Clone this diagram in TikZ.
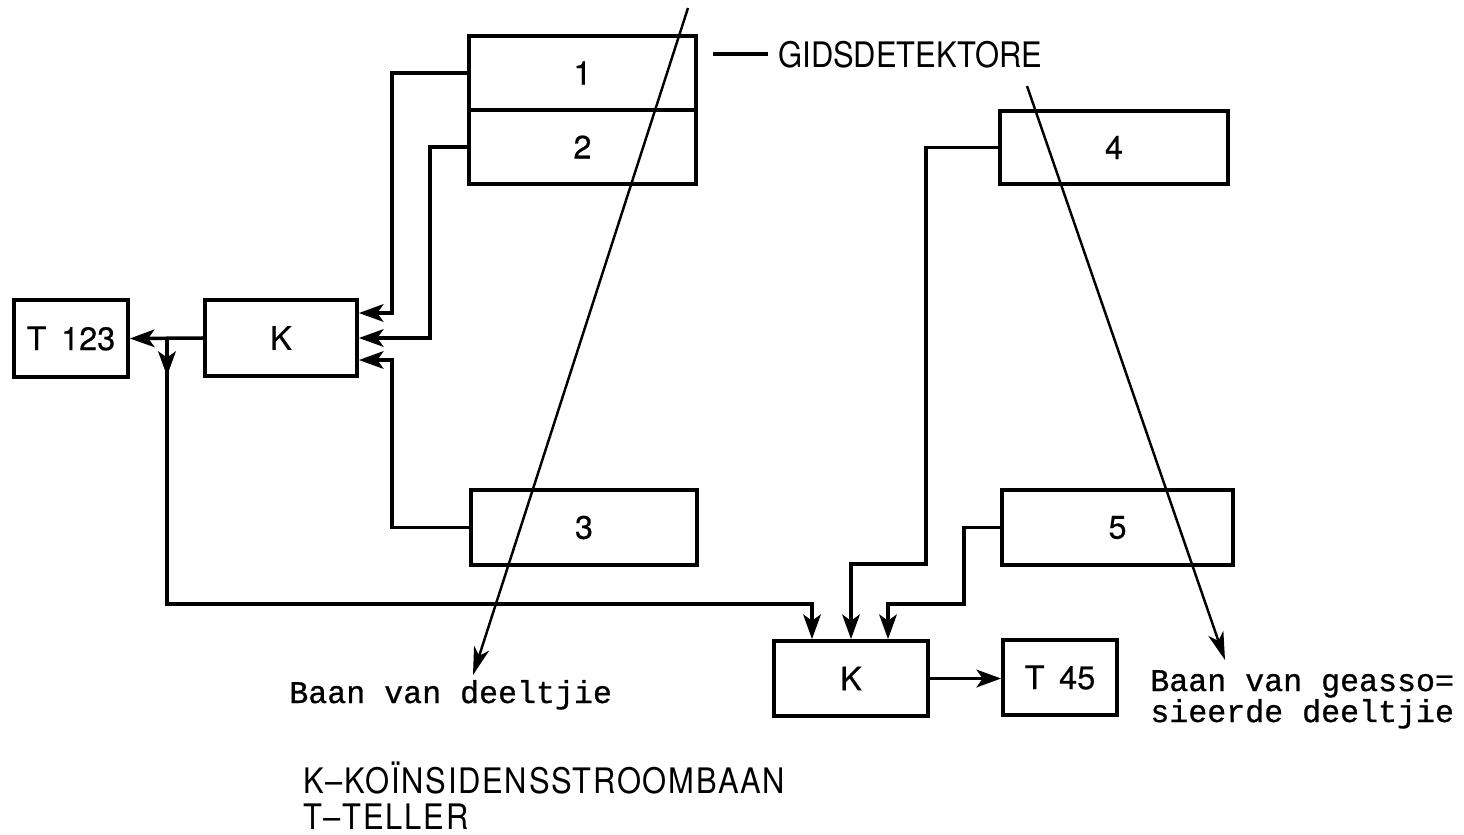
\documentclass[tikz,border=0pt]{standalone}
\usepackage{fontspec}
\setmainfont{TeX Gyre Heros}
\newfontfamily\hvc[FakeStretch=0.88]{TeX Gyre Heros}
\newfontfamily\hvb[FakeBold=0.4]{TeX Gyre Heros}
\newfontfamily\tw[FakeBold=0.8]{Liberation Mono}
\usetikzlibrary{arrows.meta,fit,calc}
\tikzset{
  box/.style={draw, line width=2.1pt, inner sep=0pt},
  boxtext/.style={font=\hvb\fontsize{18.5}{20}\selectfont},
  conn/.style={line width=2pt},
  arr/.style={line width=2pt, -{Stealth[length=14pt,width=10pt,inset=3.5pt]}},
  track/.style={line width=1.4pt, -{Stealth[length=16pt,width=9pt,inset=4.5pt]}},
  lab/.style={font=\hvc\fontsize{20}{22}\selectfont, inner sep=0pt},
  leg/.style={font=\hvc\fontsize{20}{22}\selectfont\addfontfeature{LetterSpace=5}, inner sep=0pt},
  tt/.style={font=\tw\fontsize{18}{20}\selectfont, inner sep=0pt},
}
\begin{document}
\begin{tikzpicture}[x=0.02cm,y=-0.02cm]
\useasboundingbox (0,0) rectangle (1464,835);
% boxes
\node[box,fit={(469,36)(696,110)}] (b1) {};
\node[box,fit={(469,110)(696,184)}] (b2) {};
\node[box,fit={(1000,111)(1228,184)}] (b4) {};
\node[box,fit={(471,490)(697,565)}] (b3) {};
\node[box,fit={(1002,490)(1233,565)}] (b5) {};
\node[box,fit={(14,300)(128,377)}] (t123) {};
\node[box,fit={(205,300)(357,376)}] (k1) {};
\node[box,fit={(774,641)(928,716)}] (k2) {};
\node[box,fit={(1003,640)(1117,715)}] (t45) {};
\node[boxtext] (l1) at (b1.center) {1};
\node[boxtext] (l2) at (b2.center) {2};
\node[boxtext] (l3) at (b3.center) {3};
\node[boxtext] (l4) at (b4.center) {4};
\node[boxtext] (l5) at (b5.center) {5};
\node[boxtext] (lt123) at (t123.center) {T\hspace{0.45em}123};
\node[boxtext] (lk1) at (k1.center) {K};
\node[boxtext] (lk2) at (k2.center) {K};
\node[boxtext] (lt45) at (t45.center) {T\hspace{0.45em}45};
% connectors to upper K
\draw[arr] (b1.west) -- ++(-75,0) |- ($(k1.east)+(0,-25)$);
\draw[arr] (b2.west) -- ++(-37,0) |- (k1.east);
\draw[arr] (b3.west) -- ++(-77,0) |- ($(k1.east)+(0,22)$);
\draw[arr] (k1.west) -- (t123.east);
\coordinate (j) at (167,338);
\coordinate (jb) at (167,604);
\draw[arr] (j) -- ++(0,38);
\draw[arr] (j) -- (jb) -| ($(k2.north)+(-39,0)$);
% connectors to lower K
\draw[arr] (b4.west) -| (926,564) -| (k2.north);
\draw[arr] (b5.west) -| (964,604) -| ($(k2.north)+(37,0)$);
\draw[arr] (k2.east) -- (k2.east -| t45.west);
% particle tracks
\coordinate (p1) at (688,8);
\coordinate (p2) at (473,675);
\draw[track] (p1) -- (p2);
\coordinate (q1) at (1027,86);
\coordinate (q2) at (1225,660);
\draw[track] (q1) -- (q2);
% labels
\node[lab, anchor=base west] (gd) at (778,67) {GIDSDETEKTORE};
\draw[conn] ($(gd.west)+(-10,0)$) -- ++(-55,0);
\node[tt, anchor=base west] (bd) at (289,703) {Baan van deeltjie};
\node[tt, anchor=base west] (bg1) at (1150,691) {Baan van geasso=};
\node[tt, anchor=base west] (bg2) at (1150,722) {sieerde deeltjie};
\node[leg, anchor=base west] (lg1) at (303,793) {K–KOÏNSIDENSSTROOMBAAN};
\node[leg, anchor=base west] (lg2) at (303,829) {T–TELLER};
\end{tikzpicture}
\end{document}
